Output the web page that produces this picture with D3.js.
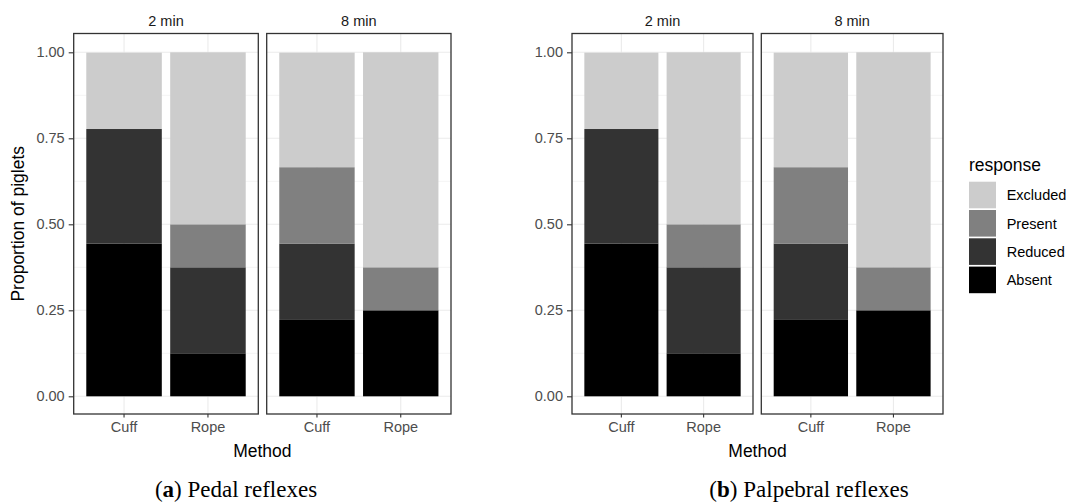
<!DOCTYPE html>
<html>
<head>
<meta charset="utf-8">
<script src="https://cdn.jsdelivr.net/npm/d3@7"></script>
<style>
  body { margin: 0; background: #fff; }
  svg { display: block; font-family: "Liberation Sans", Arial, sans-serif; }
</style>
</head>
<body>
<svg width="1069" height="504"></svg>
<script>
var methods = ["Cuff", "Rope"],
    times = ["2 min", "8 min"],
    responses = ["Absent", "Reduced", "Present", "Excluded"],
    legendOrder = ["Excluded", "Present", "Reduced", "Absent"],
    yTicks = [0, 0.25, 0.5, 0.75, 1],
    yMinor = [0.125, 0.375, 0.625, 0.875];

// order of values: 2 min Cuff, 2 min Rope, 8 min Cuff, 8 min Rope
var pedalAbsent   = [0.444, 0.125, 0.222, 0.250],
    pedalReduced  = [0.333, 0.250, 0.222, 0.000],
    pedalPresent  = [0.000, 0.125, 0.222, 0.125],
    pedalExcluded = [0.222, 0.500, 0.333, 0.625];

var palpAbsent   = [0.444, 0.125, 0.222, 0.250],
    palpReduced  = [0.333, 0.250, 0.222, 0.000],
    palpPresent  = [0.000, 0.125, 0.222, 0.125],
    palpExcluded = [0.222, 0.500, 0.333, 0.625];

var colors = d3.scaleOrdinal()
    .domain(responses)
    .range(["#000000", "#333333", "#808080", "#cccccc"]);

var svg = d3.select("svg");

function buildRows(absent, reduced, present, excluded) {
  var rows = [];
  times.forEach(function(t, ti) {
    methods.forEach(function(m, mi) {
      var i = ti * 2 + mi;
      rows.push({time: t, method: m, Absent: absent[i], Reduced: reduced[i],
                 Present: present[i], Excluded: excluded[i]});
    });
  });
  return rows;
}

var y = d3.scaleLinear().domain([0, 1]).range([396.3, 52.3]);
var panelTop = 33.5, panelBottom = 414;

function drawChart(rows, panels, opts) {
  var stacked = d3.stack().keys(responses)(rows);

  panels.forEach(function(p, pi) {
    var g = svg.append("g").attr("transform", "translate(" + p[0] + ",0)");
    var w = p[1] - p[0];
    var x = d3.scaleBand().domain(methods).range([0, w])
        .paddingInner(0.1).paddingOuter(0.15);

    // grid
    g.selectAll(".minor").data(yMinor).enter().append("line")
        .attr("x1", 0).attr("x2", w)
        .attr("y1", y).attr("y2", y)
        .attr("stroke", "#ebebeb").attr("stroke-width", 0.6);
    g.selectAll(".major").data(yTicks).enter().append("line")
        .attr("x1", 0).attr("x2", w)
        .attr("y1", y).attr("y2", y)
        .attr("stroke", "#ebebeb").attr("stroke-width", 1.1);
    g.selectAll(".vgrid").data(methods).enter().append("line")
        .attr("x1", function(d) { return x(d) + x.bandwidth() / 2; })
        .attr("x2", function(d) { return x(d) + x.bandwidth() / 2; })
        .attr("y1", panelTop).attr("y2", panelBottom)
        .attr("stroke", "#ebebeb").attr("stroke-width", 1.1);

    // bars
    stacked.forEach(function(layer) {
      g.selectAll(null)
        .data(layer.filter(function(d) { return d.data.time === times[pi]; }))
        .enter().append("rect")
        .attr("x", function(d) { return x(d.data.method); })
        .attr("width", x.bandwidth())
        .attr("y", function(d) { return y(d[1]); })
        .attr("height", function(d) { return y(d[0]) - y(d[1]); })
        .attr("fill", colors(layer.key));
    });

    // panel border
    g.append("rect")
        .attr("x", 0).attr("y", panelTop)
        .attr("width", w).attr("height", panelBottom - panelTop)
        .attr("fill", "none").attr("stroke", "#333333").attr("stroke-width", 1.3);

    // strip label
    g.append("text")
        .attr("x", w / 2).attr("y", 26)
        .attr("text-anchor", "middle")
        .style("font-size", "14.5px").style("fill", "#1a1a1a")
        .text(times[pi]);

    // x axis
    var xAxis = d3.axisBottom(x).tickSize(3.5).tickPadding(4);
    var ax = g.append("g").attr("transform", "translate(0," + panelBottom + ")").call(xAxis);
    ax.select(".domain").remove();
    ax.selectAll(".tick line").attr("stroke", "#333333").attr("stroke-width", 1.1);
    ax.selectAll(".tick text").style("font-size", "14.5px").style("fill", "#4d4d4d")
        .style("font-family", "Liberation Sans, Arial, sans-serif");

    if (pi === 0) {
      var yAxis = d3.axisLeft(y).tickValues(yTicks).tickFormat(d3.format(".2f"))
          .tickSize(5).tickPadding(4);
      var ay = svg.append("g").attr("transform", "translate(" + p[0] + ",0)").call(yAxis);
      ay.select(".domain").remove();
      ay.selectAll(".tick line").attr("stroke", "#333333").attr("stroke-width", 1.1);
      ay.selectAll(".tick text").style("font-size", "14.5px").style("fill", "#4d4d4d")
          .style("font-family", "Liberation Sans, Arial, sans-serif");
    }
  });

  var left = panels[0][0], right = panels[1][1];
  svg.append("text")
      .attr("x", (left + right) / 2).attr("y", 456.5)
      .attr("text-anchor", "middle")
      .style("font-size", "17.5px").style("fill", "#000")
      .text("Method");

  if (opts.yTitle) {
    svg.append("text")
        .attr("transform", "translate(24," + (panelTop + panelBottom) / 2 + ") rotate(-90)")
        .attr("text-anchor", "middle")
        .style("font-size", "17.5px").style("fill", "#000")
        .text(opts.yTitle);
  }

  var cap = svg.append("text")
      .attr("x", opts.capX).attr("y", 496.5)
      .attr("text-anchor", "middle")
      .style("font-family", "Liberation Serif, 'Times New Roman', serif")
      .style("font-size", "23px").style("fill", "#000");
  cap.append("tspan").text("(");
  cap.append("tspan").style("font-weight", "bold").text(opts.capLetter);
  cap.append("tspan").text(") " + opts.capText);

  if (opts.legend) {
    var lg = svg.append("g").attr("transform", "translate(969,0)");
    lg.append("text").attr("x", 0).attr("y", 170.5)
        .style("font-size", "17.5px").style("fill", "#000").text("response");
    var item = lg.selectAll(".key").data(legendOrder).enter().append("g")
        .attr("transform", function(d, i) { return "translate(0," + (181.7 + i * 28.3) + ")"; });
    item.append("rect").attr("width", 27).attr("height", 26.6)
        .attr("fill", function(d) { return colors(d); });
    item.append("text").attr("x", 37.7).attr("y", 13.3).attr("dy", "0.36em")
        .style("font-size", "14.5px").style("fill", "#000").text(function(d) { return d; });
  }
}

drawChart(buildRows(pedalAbsent, pedalReduced, pedalPresent, pedalExcluded),
    [[73.7, 258.3], [266.7, 451]],
    {yTitle: "Proportion of piglets", capX: 236, capLetter: "a", capText: "Pedal reflexes", legend: false});

drawChart(buildRows(palpAbsent, palpReduced, palpPresent, palpExcluded),
    [[572, 753], [761.3, 943]],
    {yTitle: null, capX: 809, capLetter: "b", capText: "Palpebral reflexes", legend: true});
</script>
</body>
</html>
